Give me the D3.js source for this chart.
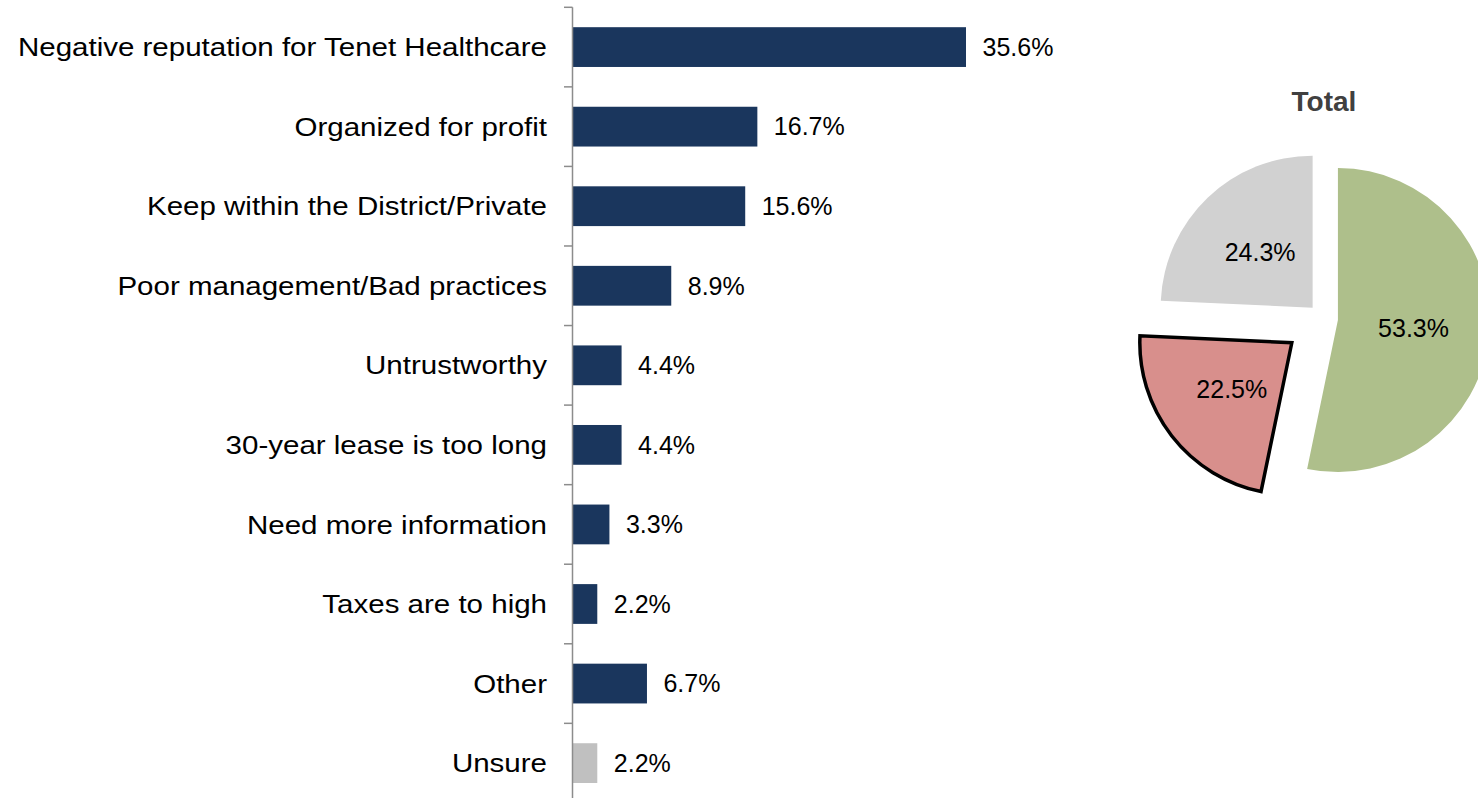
<!DOCTYPE html>
<html>
<head>
<meta charset="utf-8">
<script src="https://cdn.jsdelivr.net/npm/d3@7/dist/d3.min.js"></script>
<style>
  html, body { margin: 0; padding: 0; background: #ffffff; }
  svg { display: block; }
  text { font-family: "Liberation Sans", Arial, sans-serif; }
</style>
</head>
<body>
<svg id="chart" width="1478" height="798"></svg>
<script>
// Reasons for opposing the lease (percent of respondents)
const categories = [
  "Negative reputation for Tenet Healthcare",
  "Organized for profit",
  "Keep within the District/Private",
  "Poor management/Bad practices",
  "Untrustworthy",
  "30-year lease is too long",
  "Need more information",
  "Taxes are to high",
  "Other",
  "Unsure"
];
const values = [35.6, 16.7, 15.6, 8.9, 4.4, 4.4, 3.3, 2.2, 6.7, 2.2];

// Overall split shown in the pie
const pieTitle = "Total";
const pieGroups = ["Support", "Oppose", "Unsure"];
const pieValues = [53.3, 22.5, 24.3];

const svg = d3.select("#chart");

// ---------- bar chart ----------
const axisX = 572.5;
const x = d3.scaleLinear().domain([0, 35.6]).range([axisX + 0.5, 966]);
const y = d3.scaleBand()
  .domain(categories)
  .range([7.3, 7.3 + 79.56 * categories.length])
  .paddingInner(0.5)
  .paddingOuter(0.25);

const gap = (y.step() - y.bandwidth()) / 2;
const boundaries = categories.map(c => y(c) - gap);

const barColor = c => c === "Unsure" ? "#c0c0c0" : "#1a365d";

svg.append("g")
  .selectAll("rect")
  .data(categories)
  .join("rect")
  .attr("x", x(0))
  .attr("y", c => y(c))
  .attr("width", (c, i) => x(values[i]) - x(0))
  .attr("height", y.bandwidth())
  .attr("fill", barColor);

// axis line and tick marks
const axisG = svg.append("g").attr("stroke", "#8c8c8c").attr("stroke-width", 1.5);
axisG.append("line")
  .attr("x1", axisX).attr("x2", axisX)
  .attr("y1", boundaries[0]).attr("y2", 798);
axisG.selectAll("line.tick")
  .data(boundaries)
  .join("line")
  .attr("class", "tick")
  .attr("x1", axisX - 8.5).attr("x2", axisX)
  .attr("y1", d => d).attr("y2", d => d);

// category labels (slightly widened type)
svg.append("g")
  .selectAll("text")
  .data(categories)
  .join("text")
  .attr("transform", c => `translate(547,${y(c) + y.bandwidth() / 2}) scale(1.135,1)`)
  .attr("dy", "0.35em")
  .attr("text-anchor", "end")
  .attr("font-size", 26)
  .attr("fill", "#000")
  .text(c => c);

// value labels
svg.append("g")
  .selectAll("text")
  .data(categories)
  .join("text")
  .attr("x", (c, i) => x(values[i]) + 16.5)
  .attr("y", (c, i) => y(c) + y.bandwidth() / 2)
  .attr("dy", "0.35em")
  .attr("font-size", 25)
  .attr("fill", "#000")
  .text((c, i) => values[i].toFixed(1) + "%");

// ---------- pie ----------
const cx = 1323, cy = 318.5, R = 152;
const pieColors = ["#aebf8b", "#d88f8c", "#d1d1d1"];
const explode = [15, 39.5, 15];

const pie = d3.pie().sort(null).value(d => d);
const arc = d3.arc().innerRadius(0).outerRadius(R);
const arcs = pie(pieValues);

const pieG = svg.append("g").attr("transform", `translate(${cx},${cy})`);

const slice = pieG.selectAll("g.slice")
  .data(arcs)
  .join("g")
  .attr("class", "slice")
  .attr("transform", (d, i) => {
    const a = (d.startAngle + d.endAngle) / 2;
    return `translate(${Math.sin(a) * explode[i]},${-Math.cos(a) * explode[i]})`;
  });

slice.append("path")
  .attr("d", arc)
  .attr("fill", (d, i) => pieColors[i])
  .attr("stroke", (d, i) => pieGroups[i] === "Oppose" ? "#000" : "none")
  .attr("stroke-width", 3.5)
  .attr("stroke-linejoin", "miter");

slice.append("text")
  .attr("transform", d => `translate(${arc.centroid(d)})`)
  .attr("text-anchor", "middle")
  .attr("dy", "0.35em")
  .attr("font-size", 25)
  .attr("fill", "#000")
  .text(d => d.value.toFixed(1) + "%");

svg.append("text")
  .attr("x", cx + 1)
  .attr("y", 111)
  .attr("text-anchor", "middle")
  .attr("font-size", 28)
  .attr("font-weight", "bold")
  .attr("fill", "#404040")
  .text(pieTitle);
</script>
</body>
</html>
